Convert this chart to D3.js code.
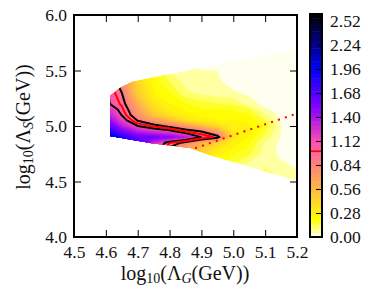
<!DOCTYPE html>
<html lang="en">
  <head>
    <meta charset="UTF-8" />
    <title>Chart</title>
    <style>
      html, body { margin: 0; padding: 0; background: #fff; }
      text { font-family: "Liberation Serif", serif; fill: #111; }
      .tick text { font-size: 17.5px; }
      .domain { display: none; }
      .tick line { stroke: #000; stroke-width: 1; }
    </style>
  </head>
  <body>
    <div class="chart"></div>

    <script src="https://d3js.org/d3.v7.min.js"></script>

    <script>
      // grid of the surface
      const gVals = [4.6, 4.65, 4.7, 4.75, 4.8, 4.85, 4.9, 4.95, 5.0, 5.05, 5.1, 5.15, 5.2];
      const sVals = [4.45, 4.55, 4.65, 4.75, 4.8, 4.85, 4.9, 4.95, 5.0, 5.05, 5.1, 5.15, 5.2, 5.3, 5.4, 5.5, 5.6, 5.7];
      const zRows = [
        [2.3, 2.0, 1.7, 1.2, 0.8, 0.6, 0.45, 0.3, 0.15, 0.1, 0.14, 0.11, 0.09],
        [2.3, 2.0, 1.7, 1.2, 0.8, 0.6, 0.45, 0.25, 0.12, 0.08, 0.13, 0.09, 0.06],
        [2.3, 2.0, 1.75, 1.25, 0.85, 0.6, 0.42, 0.22, 0.14, 0.08, 0.09, 0.06, 0.04],
        [2.3, 2.0, 1.75, 1.25, 0.85, 0.65, 0.45, 0.27, 0.2, 0.16, 0.075, 0.04, 0.03],
        [2.3, 2.0, 1.75, 1.25, 0.87, 0.7, 0.5, 0.32, 0.25, 0.19, 0.07, 0.04, 0.03],
        [2.3, 1.95, 1.75, 1.3, 1.02, 0.85, 0.62, 0.45, 0.28, 0.2, 0.09, 0.04, 0.03],
        [2.2, 1.85, 1.6, 1.55, 1.5, 1.35, 1.1, 0.97, 0.32, 0.24, 0.13, 0.045, 0.03],
        [1.95, 1.55, 1.35, 1.25, 1.17, 1.0, 0.9, 0.7, 0.3, 0.26, 0.16, 0.05, 0.03],
        [1.75, 1.35, 1.1, 0.97, 0.85, 0.72, 0.55, 0.38, 0.28, 0.26, 0.19, 0.05, 0.03],
        [1.55, 1.2, 0.89, 0.7, 0.55, 0.36, 0.28, 0.25, 0.25, 0.24, 0.15, 0.04, 0.03],
        [1.4, 1.09, 0.75, 0.5, 0.36, 0.27, 0.23, 0.22, 0.23, 0.21, 0.095, 0.035, 0.03],
        [1.3, 1.03, 0.7, 0.38, 0.28, 0.23, 0.2, 0.2, 0.19, 0.15, 0.055, 0.03, 0.03],
        [1.14, 0.98, 0.6, 0.33, 0.25, 0.2, 0.17, 0.15, 0.14, 0.07, 0.035, 0.03, 0.02],
        [1.13, 0.9, 0.45, 0.25, 0.2, 0.11, 0.08, 0.07, 0.055, 0.04, 0.03, 0.02, 0.02],
        [1.1, 0.8, 0.4, 0.22, 0.15, 0.08, 0.06, 0.055, 0.035, 0.03, 0.03, 0.02, 0.02],
        [1.0, 0.75, 0.35, 0.2, 0.09, 0.06, 0.05, 0.05, 0.03, 0.03, 0.02, 0.02, 0.02],
        [0.9, 0.7, 0.3, 0.2, 0.08, 0.05, 0.045, 0.04, 0.03, 0.03, 0.02, 0.02, 0.02],
        [0.9, 0.7, 0.3, 0.2, 0.08, 0.05, 0.04, 0.04, 0.03, 0.03, 0.02, 0.02, 0.02],
      ];

      // outline of the filled region
      const wedgeG = [4.613, 4.613, 4.644, 4.682, 4.864, 4.968, 5.2, 5.2, 4.927, 4.864, 4.739];
      const wedgeS = [4.91, 5.27, 5.342, 5.396, 5.505, 5.568, 5.694, 4.505, 4.739, 4.802, 4.847];

      // red dotted line
      const lineG = [4.88, 5.2];
      const lineS = [4.8, 5.113];

      const levelStep = 0.05;
      const blackLevels = [0.9, 1.1];
      const redLevels = [1.0];
      const barMax = 2.6;

      const xTicks = [4.5, 4.6, 4.7, 4.8, 4.9, 5.0, 5.1, 5.2];
      const yTicks = [4.0, 4.5, 5.0, 5.5, 6.0];
      const barTicks = [0, 0.28, 0.56, 0.84, 1.12, 1.4, 1.68, 1.96, 2.24, 2.52];

      // scales =================================================================
      const x = d3.scaleLinear().domain([4.5, 5.2]).range([74, 297]);
      const y = d3.scaleLinear().domain([4.0, 6.0]).range([237, 15]);
      const barY = d3.scaleLinear().domain([0, barMax]).range([237, 14]);

      // d3.contours puts values at cell centres, hence the 0.5
      const gFromIndex = d3.scaleLinear().domain(gVals.map((d, i) => i + 0.5)).range(gVals);
      const sFromIndex = d3.scaleLinear().domain(sVals.map((d, i) => i + 0.5)).range(sVals);

      // gnuplot2 reversed
      function cmap(v) {
        const t = 1 - v / barMax;
        const r = Math.max(0, Math.min(1, t / 0.32 - 0.78125));
        const g = Math.max(0, Math.min(1, 2 * t - 0.84));
        let b;
        if (t < 0.25) b = 4 * t;
        else if (t < 0.92) b = Math.min(1, -2 * t + 1.84);
        else b = t / 0.08 - 11.5;
        b = Math.max(0, Math.min(1, b));
        return d3.rgb(r * 255, g * 255, b * 255).formatRgb();
      }

      const levels = d3.range(0, barMax, levelStep);

      const svg = d3.select(".chart").append("svg").attr("width", 371).attr("height", 297).style("display", "block");

      svg.append("clipPath").attr("id", "wedge")
        .append("path")
        .attr("d", d3.line()(wedgeG.map((d, i) => [x(d), y(wedgeS[i])])) + "Z");

      // filled contours =================================================================
      const flat = zRows.flat();
      const contours = d3.contours().size([gVals.length, sVals.length]);
      const path = d3.geoPath(d3.geoTransform({
        point(px, py) {
          this.stream.point(x(gFromIndex(px)), y(sFromIndex(py)));
        },
      }));

      const plot = svg.append("g").attr("clip-path", "url(#wedge)");
      plot.append("rect").attr("x", 74).attr("y", 15).attr("width", 223).attr("height", 222).attr("fill", cmap(0.012));

      plot.selectAll("path.band")
        .data(contours.thresholds(levels.slice(1))(flat))
        .enter()
        .append("path")
        .attr("class", "band")
        .attr("d", path)
        .attr("fill", (d) => cmap(d.value + levelStep / 2))
        .attr("stroke", (d) => cmap(d.value + levelStep / 2))
        .attr("stroke-width", 0.3);

      // contour lines
      plot.selectAll("path.black")
        .data(contours.thresholds(blackLevels)(flat))
        .enter()
        .append("path")
        .attr("d", path)
        .attr("fill", "none")
        .attr("stroke", "#000")
        .attr("stroke-width", 2);

      plot.selectAll("path.red")
        .data(contours.thresholds(redLevels)(flat))
        .enter()
        .append("path")
        .attr("d", path)
        .attr("fill", "none")
        .attr("stroke", "#f00")
        .attr("stroke-width", 2);

      // dotted line
      svg.append("line")
        .attr("x1", x(lineG[0])).attr("y1", y(lineS[0]))
        .attr("x2", x(lineG[1])).attr("y2", y(lineS[1]))
        .attr("stroke", "#f00")
        .attr("stroke-width", 2)
        .attr("stroke-dasharray", "2 5.3");

      // axes =================================================================
      const fmt = d3.format(".1f");
      svg.append("g").attr("transform", "translate(0,237)")
        .call(d3.axisBottom(x).tickValues(xTicks).tickFormat(fmt).tickSize(-7).tickPadding(9));
      svg.append("g").attr("transform", "translate(0,15)")
        .call(d3.axisTop(x).tickValues(xTicks).tickFormat("").tickSize(-7));
      svg.append("g").attr("transform", "translate(74,0)")
        .call(d3.axisLeft(y).tickValues(yTicks).tickFormat(fmt).tickSize(-7).tickPadding(7));
      svg.append("g").attr("transform", "translate(297,0)")
        .call(d3.axisRight(y).tickValues(yTicks).tickFormat("").tickSize(-7));

      svg.append("rect").attr("x", 74).attr("y", 15).attr("width", 223).attr("height", 222)
        .attr("fill", "none").attr("stroke", "#000").attr("stroke-width", 2);

      // axis labels
      const xLabel = svg.append("text").attr("x", 185).attr("y", 280).attr("text-anchor", "middle").attr("font-size", 20);
      xLabel.append("tspan").text("log");
      xLabel.append("tspan").attr("font-size", 14).attr("dy", 3).text("10");
      xLabel.append("tspan").attr("dy", -3).text("(Λ");
      xLabel.append("tspan").attr("font-size", 14).attr("dy", 3).attr("font-style", "italic").text("G");
      xLabel.append("tspan").attr("dy", -3).text("(GeV))");

      const yLabel = svg.append("text").attr("transform", "translate(30,127) rotate(-90)").attr("text-anchor", "middle").attr("font-size", 20);
      yLabel.append("tspan").text("log");
      yLabel.append("tspan").attr("font-size", 14).attr("dy", 3).text("10");
      yLabel.append("tspan").attr("dy", -3).text("(Λ");
      yLabel.append("tspan").attr("font-size", 14).attr("dy", 3).attr("font-style", "italic").text("S");
      yLabel.append("tspan").attr("dy", -3).text("(GeV))");

      // colorbar =================================================================
      const bar = svg.append("g");
      bar.selectAll("rect")
        .data(levels)
        .enter()
        .append("rect")
        .attr("x", 310)
        .attr("width", 12)
        .attr("y", (d) => barY(d + levelStep))
        .attr("height", (d) => barY(d) - barY(d + levelStep) + 0.5)
        .attr("fill", (d) => cmap(d + levelStep / 2));

      bar.selectAll("line")
        .data(redLevels)
        .enter()
        .append("line")
        .attr("x1", 310).attr("x2", 322)
        .attr("y1", (d) => barY(d)).attr("y2", (d) => barY(d))
        .attr("stroke", "#f00").attr("stroke-width", 1.7);

      svg.append("g").attr("transform", "translate(322,0)")
        .call(d3.axisRight(barY).tickValues(barTicks).tickFormat(d3.format(".2f")).tickSize(-6).tickPadding(8));

      svg.append("rect").attr("x", 310).attr("y", 14).attr("width", 12).attr("height", 223)
        .attr("fill", "none").attr("stroke", "#000").attr("stroke-width", 2);
    </script>
  </body>
</html>
